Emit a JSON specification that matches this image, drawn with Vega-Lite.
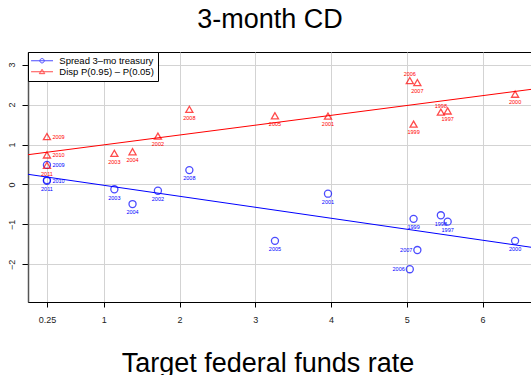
{
  "$schema": "https://vega.github.io/schema/vega-lite/v6.json",
  "width": 503,
  "height": 250,
  "autosize": {"type": "none"},
  "padding": {"left": 28, "top": 52, "right": 0, "bottom": 73},
  "background": "white",
  "title": {
    "text": "3-month CD",
    "font": "Liberation Sans",
    "fontSize": 27,
    "fontWeight": "normal",
    "color": "black",
    "anchor": "middle",
    "frame": "group",
    "dx": -9.5,
    "dy": 27,
    "baseline": "alphabetic",
    "offset": 24
  },
  "config": {
    "view": {"stroke": "black", "strokeWidth": 1},
    "axis": {
      "grid": true,
      "gridColor": "#d3d3d3",
      "gridWidth": 1,
      "labelFont": "Liberation Sans",
      "labelColor": "#222",
      "labelOverlap": false,
      "labelFlush": false,
      "tickColor": "black"
    }
  },
  "datasets": {
    "pts": [
      {"series": "Spread 3–mo treasury", "year": "2009", "rate": 0.25, "value": 0.49},
      {"series": "Spread 3–mo treasury", "year": "2010", "rate": 0.25, "value": 0.11},
      {"series": "Spread 3–mo treasury", "year": "2011", "rate": 0.25, "value": 0.09},
      {"series": "Spread 3–mo treasury", "year": "2003", "rate": 1.14, "value": -0.12},
      {"series": "Spread 3–mo treasury", "year": "2004", "rate": 1.38, "value": -0.49},
      {"series": "Spread 3–mo treasury", "year": "2002", "rate": 1.715, "value": -0.155},
      {"series": "Spread 3–mo treasury", "year": "2008", "rate": 2.13, "value": 0.36},
      {"series": "Spread 3–mo treasury", "year": "2005", "rate": 3.26, "value": -1.41},
      {"series": "Spread 3–mo treasury", "year": "2001", "rate": 3.96, "value": -0.23},
      {"series": "Spread 3–mo treasury", "year": "2006", "rate": 5.04, "value": -2.12},
      {"series": "Spread 3–mo treasury", "year": "1999", "rate": 5.09, "value": -0.86},
      {"series": "Spread 3–mo treasury", "year": "2007", "rate": 5.14, "value": -1.64},
      {"series": "Spread 3–mo treasury", "year": "1998", "rate": 5.45, "value": -0.77},
      {"series": "Spread 3–mo treasury", "year": "1997", "rate": 5.54, "value": -0.93},
      {"series": "Spread 3–mo treasury", "year": "2000", "rate": 6.43, "value": -1.41},
      {"series": "Disp P(0.95) – P(0.05)", "year": "2009", "rate": 0.25, "value": 1.2},
      {"series": "Disp P(0.95) – P(0.05)", "year": "2010", "rate": 0.25, "value": 0.74},
      {"series": "Disp P(0.95) – P(0.05)", "year": "2011", "rate": 0.25, "value": 0.48},
      {"series": "Disp P(0.95) – P(0.05)", "year": "2003", "rate": 1.14, "value": 0.78},
      {"series": "Disp P(0.95) – P(0.05)", "year": "2004", "rate": 1.38, "value": 0.82},
      {"series": "Disp P(0.95) – P(0.05)", "year": "2002", "rate": 1.715, "value": 1.21},
      {"series": "Disp P(0.95) – P(0.05)", "year": "2008", "rate": 2.13, "value": 1.88},
      {"series": "Disp P(0.95) – P(0.05)", "year": "2005", "rate": 3.26, "value": 1.72},
      {"series": "Disp P(0.95) – P(0.05)", "year": "2001", "rate": 3.96, "value": 1.71},
      {"series": "Disp P(0.95) – P(0.05)", "year": "2006", "rate": 5.04, "value": 2.6},
      {"series": "Disp P(0.95) – P(0.05)", "year": "1999", "rate": 5.09, "value": 1.51},
      {"series": "Disp P(0.95) – P(0.05)", "year": "2007", "rate": 5.14, "value": 2.55},
      {"series": "Disp P(0.95) – P(0.05)", "year": "1998", "rate": 5.45, "value": 1.81},
      {"series": "Disp P(0.95) – P(0.05)", "year": "1997", "rate": 5.54, "value": 1.84},
      {"series": "Disp P(0.95) – P(0.05)", "year": "2000", "rate": 6.43, "value": 2.26}
    ],
    "fits": [
      {"series": "Spread 3–mo treasury", "rate": 0, "value": 0.255},
      {"series": "Spread 3–mo treasury", "rate": 6.64, "value": -1.57},
      {"series": "Disp P(0.95) – P(0.05)", "rate": 0, "value": 0.745},
      {"series": "Disp P(0.95) – P(0.05)", "rate": 6.64, "value": 2.38}
    ]
  },
  "layer": [
    {
      "data": {"name": "fits"},
      "mark": {"type": "line", "strokeWidth": 1, "clip": true},
      "encoding": {
        "x": {
          "field": "rate",
          "type": "quantitative",
          "scale": {"domain": [0, 6.64], "nice": false, "zero": false},
          "axis": {
            "values": [0.25, 1, 2, 3, 4, 5, 6],
            "format": "~g",
            "labelFontSize": 9,
            "labelBaseline": "middle",
            "labelPadding": 12,
            "tickSize": 5,
            "domainColor": "black",
            "domainWidth": 1.2,
            "title": "Target federal funds rate",
            "titleFont": "Liberation Sans",
            "titleFontSize": 27,
            "titleFontWeight": "normal",
            "titleColor": "black",
            "titleX": 239.5,
            "titleY": 69,
            "titleAlign": "center",
            "titleBaseline": "alphabetic"
          }
        },
        "y": {
          "field": "value",
          "type": "quantitative",
          "scale": {"domain": [-2.94, 3.315], "nice": false, "zero": false},
          "axis": {
            "values": [-2, -1, 0, 1, 2, 3],
            "format": "d",
            "labelFontSize": 9,
            "labelAngle": -90,
            "labelAlign": "center",
            "labelBaseline": "alphabetic",
            "labelPadding": 7.5,
            "tickSize": 6,
            "domainColor": "#555",
            "domainWidth": 1.5,
            "title": null
          }
        },
        "detail": {"field": "series"},
        "color": {
          "condition": {"test": "datum.series === 'Spread 3–mo treasury'", "value": "#0000ff"},
          "value": "#ff0000"
        }
      }
    },
    {
      "mark": {"type": "rule", "color": "black", "strokeWidth": 1.2},
      "encoding": {"y": {"datum": 0, "type": "quantitative"}}
    },
    {
      "mark": {"type": "rule", "color": "#00e600", "strokeWidth": 1},
      "encoding": {"x": {"datum": 0.25, "type": "quantitative"}}
    },
    {
      "data": {"name": "pts"},
      "mark": {"type": "point", "filled": false, "size": 50, "strokeWidth": 1.3},
      "encoding": {
        "x": {"field": "rate", "type": "quantitative"},
        "y": {"field": "value", "type": "quantitative"},
        "shape": {
          "condition": {"test": "datum.series === 'Spread 3–mo treasury'", "value": "circle"},
          "value": "triangle-up"
        },
        "color": {
          "field": "series",
          "type": "nominal",
          "scale": {
            "domain": ["Spread 3–mo treasury", "Disp P(0.95) – P(0.05)"],
            "range": ["#0000ff", "#ff0000"]
          },
          "legend": {
            "title": null,
            "orient": "none",
            "legendX": 0,
            "legendY": 0,
            "fillColor": "white",
            "strokeColor": "black",
            "padding": 4,
            "rowPadding": 0,
            "labelFont": "Liberation Sans",
            "labelFontSize": 9.5,
            "labelColor": "black",
            "symbolSize": 30,
            "symbolOffset": 5.3,
            "labelOffset": 12.5,
            "symbolStrokeWidth": 1,
            "symbolFillColor": "transparent",
            "encoding": {
              "symbols": {
                "shape": {
                  "condition": {"test": "datum.value === 'Spread 3–mo treasury'", "value": "M-4,0L4,0M0.8,0A0.8,0.8,0,1,1,-0.8,0A0.8,0.8,0,1,1,0.8,0Z"},
                  "value": "M-4,0L4,0M0,-0.9L1,0.7L-1,0.7Z"
                }
              }
            }
          }
        }
      }
    },
    {
      "data": {"name": "pts"},
      "transform": [
        {"filter": "!(datum.rate === 0.25 && (datum.year === '2009' || datum.year === '2010')) && !(datum.series === 'Disp P(0.95) – P(0.05)' && (datum.year === '2006' || datum.year === '1998')) && !(datum.series === 'Spread 3–mo treasury' && (datum.year === '2006' || datum.year === '2007'))"}
      ],
      "mark": {"type": "text", "font": "Liberation Sans", "fontSize": 5.5, "align": "center", "baseline": "middle", "dy": 8.3},
      "encoding": {
        "x": {"field": "rate", "type": "quantitative"},
        "y": {"field": "value", "type": "quantitative"},
        "text": {"field": "year"},
        "color": {
          "condition": {"test": "datum.series === 'Spread 3–mo treasury'", "value": "#0000ff"},
          "value": "#ff0000"
        }
      }
    },
    {
      "data": {"name": "pts"},
      "transform": [
        {"filter": "datum.rate === 0.25 && (datum.year === '2009' || datum.year === '2010')"}
      ],
      "mark": {"type": "text", "font": "Liberation Sans", "fontSize": 5.5, "align": "left", "baseline": "middle", "dx": 5.5, "dy": 0.5},
      "encoding": {
        "x": {"field": "rate", "type": "quantitative"},
        "y": {"field": "value", "type": "quantitative"},
        "text": {"field": "year"},
        "color": {
          "condition": {"test": "datum.series === 'Spread 3–mo treasury'", "value": "#0000ff"},
          "value": "#ff0000"
        }
      }
    },
    {
      "data": {"name": "pts"},
      "transform": [
        {"filter": "datum.series === 'Disp P(0.95) – P(0.05)' && (datum.year === '2006' || datum.year === '1998')"}
      ],
      "mark": {"type": "text", "font": "Liberation Sans", "fontSize": 5.5, "align": "center", "baseline": "middle", "dy": -6.5, "color": "#ff0000"},
      "encoding": {
        "x": {"field": "rate", "type": "quantitative"},
        "y": {"field": "value", "type": "quantitative"},
        "text": {"field": "year"}
      }
    },
    {
      "data": {"name": "pts"},
      "transform": [
        {"filter": "datum.series === 'Spread 3–mo treasury' && (datum.year === '2006' || datum.year === '2007')"}
      ],
      "mark": {"type": "text", "font": "Liberation Sans", "fontSize": 5.5, "align": "right", "baseline": "middle", "dx": -5, "color": "#0000ff"},
      "encoding": {
        "x": {"field": "rate", "type": "quantitative"},
        "y": {"field": "value", "type": "quantitative"},
        "text": {"field": "year"}
      }
    }
  ]
}
